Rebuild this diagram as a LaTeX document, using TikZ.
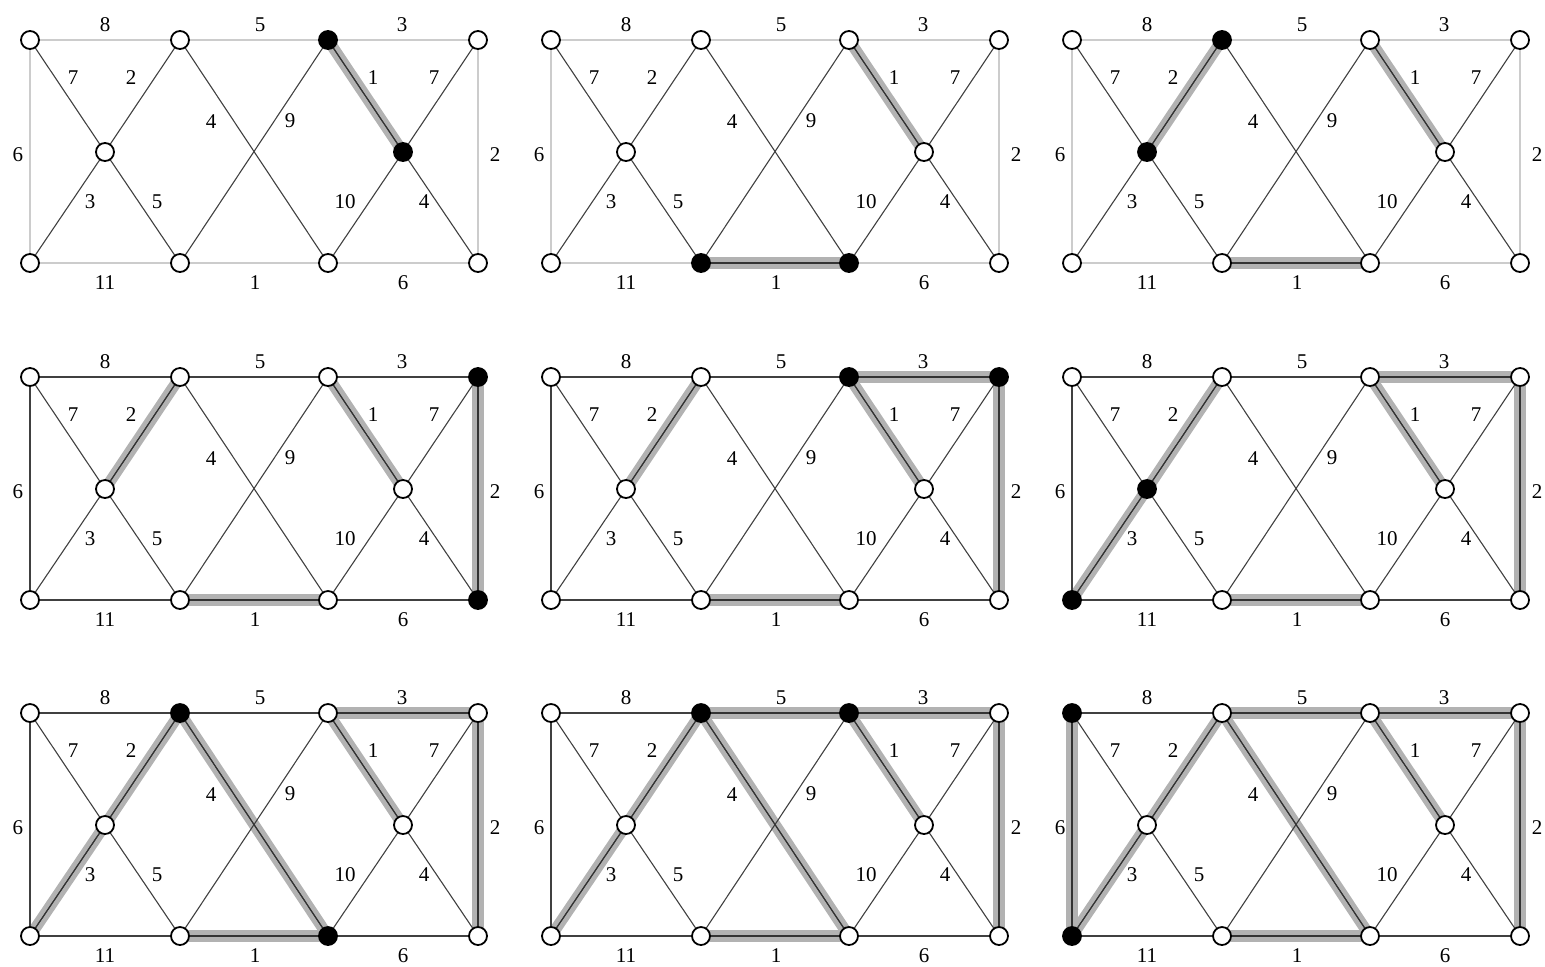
\documentclass[tikz,border=0pt]{standalone}
\usepackage{fontspec}
\setmainfont{Liberation Serif}
\pgfdeclarelayer{bg}
\pgfsetlayers{bg,main}
\tikzset{
  vtx/.style={circle,draw=black,line width=0.9pt,fill=white,minimum size=9pt,inner sep=0pt},
  blk/.style={fill=black},
  edg/.style={draw=black!75,line width=0.55pt},
  band/.style={draw=black!30,line width=5.6pt},
  wlab/.style={font=\fontsize{10.5}{11}\selectfont,inner sep=0pt},
  faintouter/.style={draw=black!20,line width=1pt},
  darkouter/.style={},
}
% #1 prefix, #2 x, #3 y, #4 outer edge style, #5 highlighted edges, #6 node styles
\newcommand\kpanel[6]{%
\begin{scope}[shift={(#2,#3)},nA/.style={},nB/.style={},nC/.style={},nD/.style={},nE/.style={},nF/.style={},nG/.style={},nH/.style={},nI/.style={},nJ/.style={},#6]
  \node[vtx,nA] (#1A) at (30,40) {};
  \node[vtx,nB] (#1B) at (180,40) {};
  \node[vtx,nC] (#1C) at (328,40) {};
  \node[vtx,nD] (#1D) at (478,40) {};
  \node[vtx,nE] (#1E) at (105,152) {};
  \node[vtx,nF] (#1F) at (403,152) {};
  \node[vtx,nG] (#1G) at (30,263) {};
  \node[vtx,nH] (#1H) at (180,263) {};
  \node[vtx,nI] (#1I) at (328,263) {};
  \node[vtx,nJ] (#1J) at (478,263) {};
  \begin{pgfonlayer}{bg}
    \foreach \a/\b in {#5} \draw[band] (#1\a.center) -- (#1\b.center);
    \foreach \a/\b in {A/B,B/C,C/D,A/G,D/J,G/H,H/I,I/J}
      \draw[edg,#4] (#1\a.center) -- (#1\b.center);
    \foreach \a/\b in {A/E,B/E,E/G,E/H,B/I,C/H,C/F,D/F,F/I,F/J}
      \draw[edg] (#1\a.center) -- (#1\b.center);
    \foreach \a/\b in {#5} \draw[edg,draw=black!80] (#1\a.center) -- (#1\b.center);
  \end{pgfonlayer}
  \node[wlab] (#1w1) at (105,25) {8};
  \node[wlab] (#1w2) at (260,25) {5};
  \node[wlab] (#1w3) at (402,25) {3};
  \node[wlab] (#1w4) at (73,78) {7};
  \node[wlab] (#1w5) at (131,78) {2};
  \node[wlab] (#1w6) at (211,122) {4};
  \node[wlab] (#1w7) at (290,121) {9};
  \node[wlab] (#1w8) at (373,78) {1};
  \node[wlab] (#1w9) at (434,78) {7};
  \node[wlab] (#1w10) at (18,155) {6};
  \node[wlab] (#1w11) at (495,155) {2};
  \node[wlab] (#1w12) at (90,202) {3};
  \node[wlab] (#1w13) at (157,202) {5};
  \node[wlab] (#1w14) at (345,202) {10};
  \node[wlab] (#1w15) at (424,202) {4};
  \node[wlab] (#1w16) at (105,283) {11};
  \node[wlab] (#1w17) at (255,283) {1};
  \node[wlab] (#1w18) at (403,283) {6};
\end{scope}}
\begin{document}
\begin{tikzpicture}[x=0.5pt,y=-0.5pt]
\useasboundingbox (0,0) rectangle (1545,966);
\kpanel{p1}{0}{0}{faintouter}{C/F}{nC/.style=blk,nF/.style=blk}
\kpanel{p2}{521}{0}{faintouter}{C/F,H/I}{nH/.style=blk,nI/.style=blk}
\kpanel{p3}{1042}{0}{faintouter}{C/F,H/I,B/E}{nB/.style=blk,nE/.style=blk}
\kpanel{p4}{0}{337}{darkouter}{B/E,C/F,H/I,D/J}{nD/.style=blk,nJ/.style=blk}
\kpanel{p5}{521}{337}{darkouter}{B/E,C/F,H/I,D/J,C/D}{nC/.style=blk,nD/.style=blk}
\kpanel{p6}{1042}{337}{darkouter}{B/E,C/F,H/I,D/J,C/D,E/G}{nE/.style=blk,nG/.style=blk}
\kpanel{p7}{0}{673}{darkouter}{B/E,C/F,H/I,D/J,C/D,E/G,B/I}{nB/.style=blk,nI/.style=blk}
\kpanel{p8}{521}{673}{darkouter}{B/E,C/F,H/I,D/J,C/D,E/G,B/I,B/C}{nB/.style=blk,nC/.style=blk}
\kpanel{p9}{1042}{673}{darkouter}{B/E,C/F,H/I,D/J,C/D,E/G,B/I,B/C,A/G}{nA/.style=blk,nG/.style=blk}
\end{tikzpicture}
\end{document}
